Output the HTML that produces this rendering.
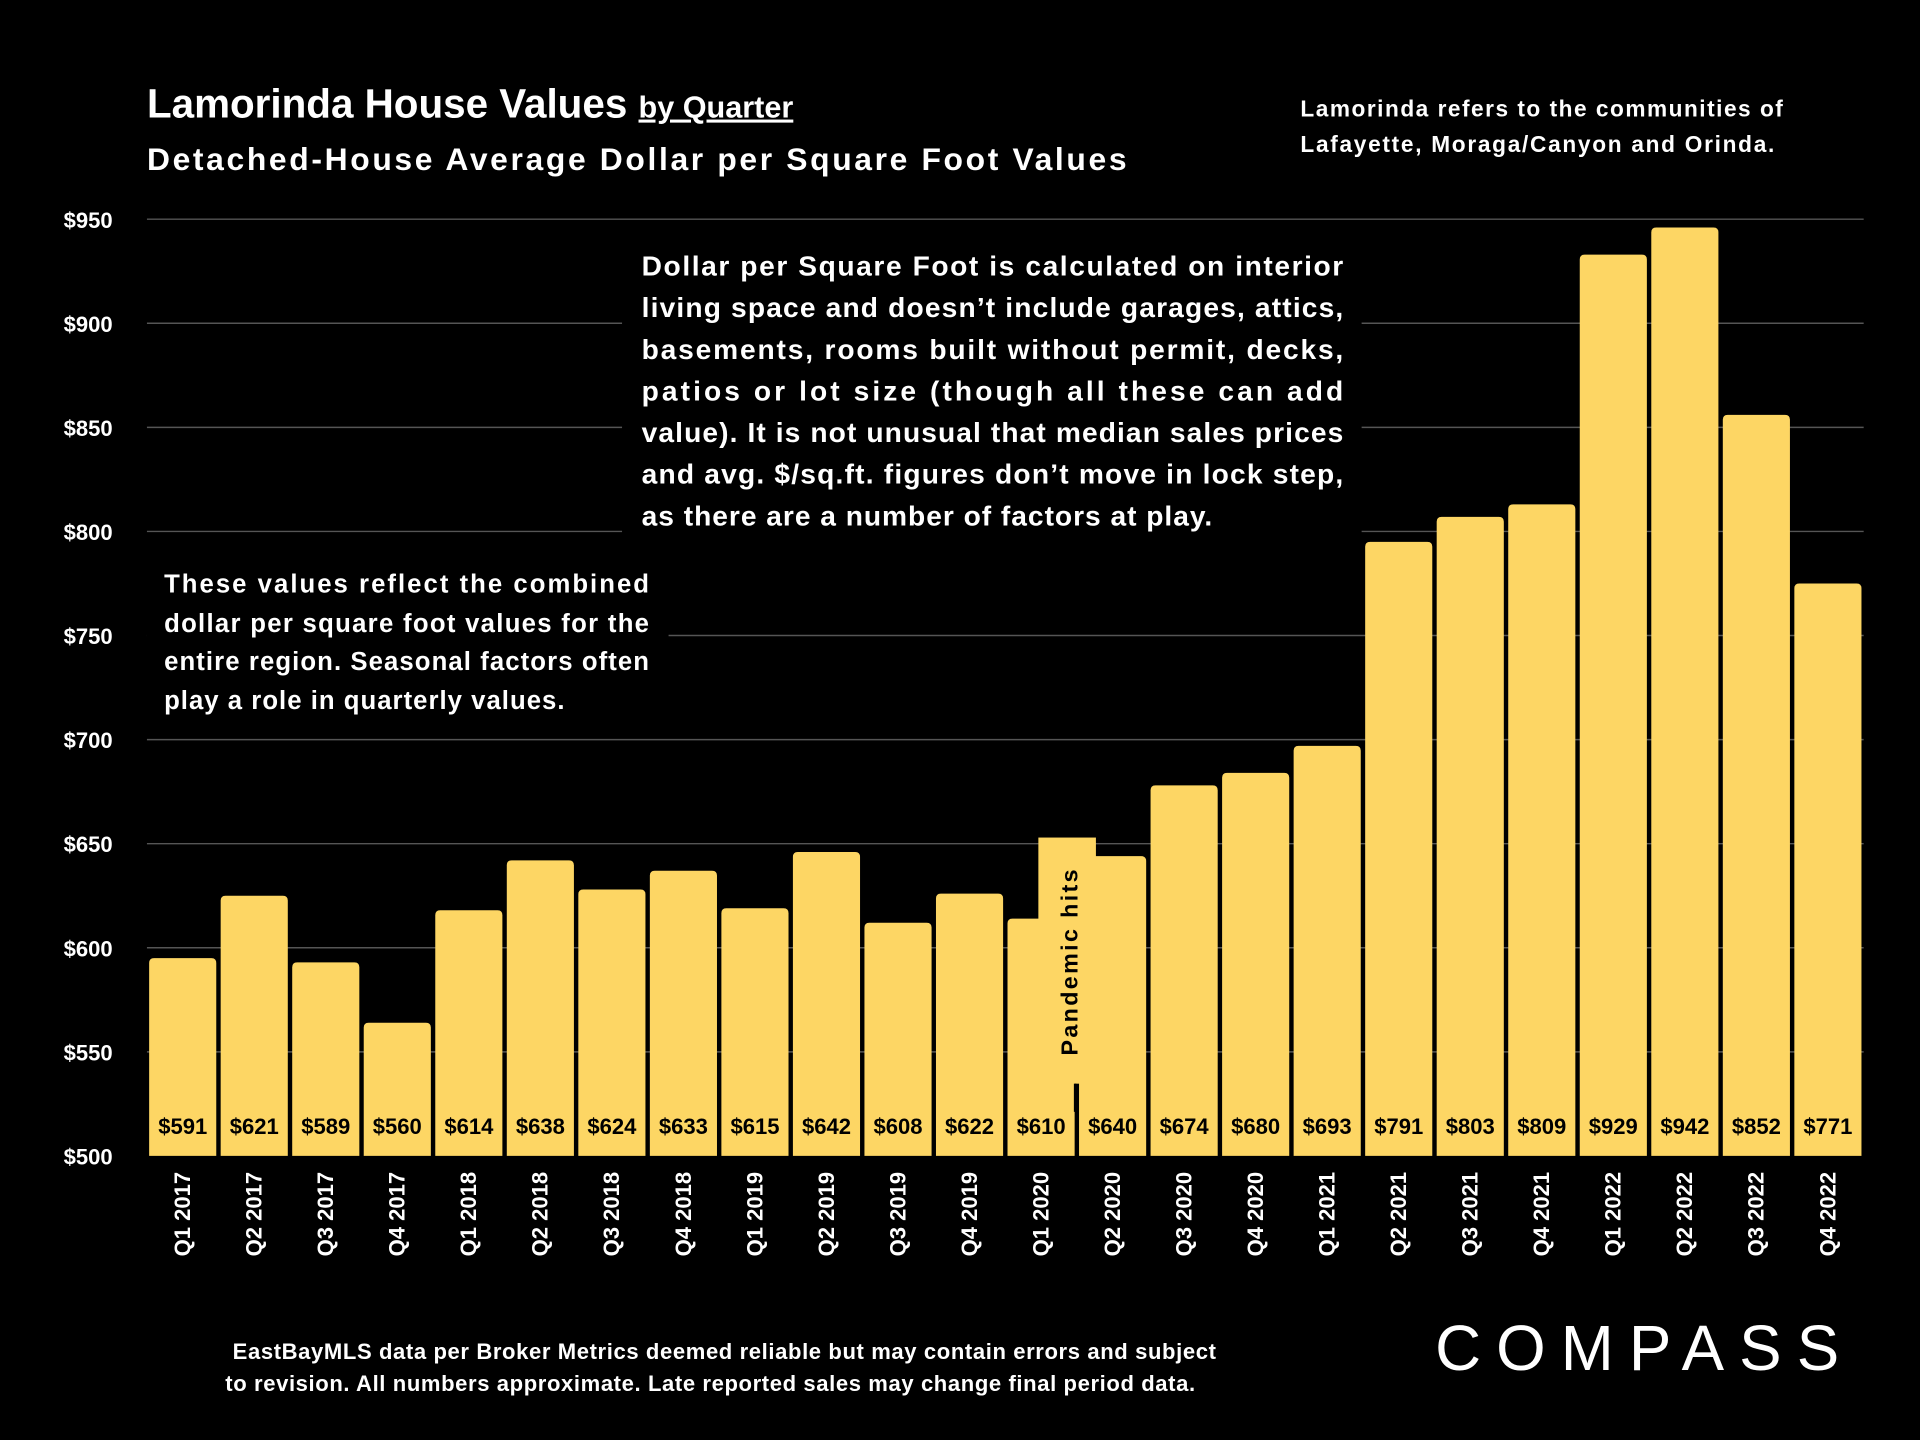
<!DOCTYPE html>
<html><head><meta charset="utf-8"><style>
html,body{margin:0;padding:0;background:#000;}
svg{display:block;}
text{font-family:"Liberation Sans",sans-serif;font-weight:bold;}
</style></head><body>
<svg id="chart" width="1920" height="1440" viewBox="0 0 1568 1176" xmlns="http://www.w3.org/2000/svg">
<rect x="0" y="0" width="1568" height="1176" fill="#000"/>
<g id="grid"></g>
<g id="bars"></g>
<text x="120" y="96" fill="#fff" font-size="33">Lamorinda House Values <tspan font-size="25" text-decoration="underline">by Quarter</tspan></text>
<text x="120" y="139" fill="#fff" font-size="26" textLength="800">Detached-House Average Dollar per Square Foot Values</text>
<text fill="#fff" font-size="18.5"><tspan x="1062" y="95" textLength="394">Lamorinda refers to the communities of</tspan><tspan x="1062" y="124" textLength="387">Lafayette, Moraga/Canyon and Orinda.</tspan></text>
<rect x="508" y="195" width="604" height="245" fill="#000"/>
<g fill="#fff" font-size="23">
<text x="524" y="225" textLength="573" lengthAdjust="spacing">Dollar per Square Foot is calculated on interior</text>
<text x="524" y="259" textLength="573" lengthAdjust="spacing">living space and doesn’t include garages, attics,</text>
<text x="524" y="293" textLength="573" lengthAdjust="spacing">basements, rooms built without permit, decks,</text>
<text x="524" y="327" textLength="573" lengthAdjust="spacing">patios or lot size (though all these can add</text>
<text x="524" y="361" textLength="573" lengthAdjust="spacing">value).  It is not unusual that median sales prices</text>
<text x="524" y="395" textLength="573" lengthAdjust="spacing">and avg. $/sq.ft. figures don’t move in lock step,</text>
<text x="524" y="429" textLength="466" lengthAdjust="spacing">as there are a number of factors at play.</text>
</g>
<rect x="120" y="455" width="426" height="140" fill="#000"/>
<g fill="#fff" font-size="21">
<text x="134" y="484" textLength="396" lengthAdjust="spacing">These values reflect the combined</text>
<text x="134" y="516" textLength="396" lengthAdjust="spacing">dollar per square foot values for the</text>
<text x="134" y="547" textLength="396" lengthAdjust="spacing">entire region. Seasonal factors often</text>
<text x="134" y="579" textLength="327" lengthAdjust="spacing">play a role in quarterly values.</text>
</g>
<g id="overlay">
<rect x="848" y="684" width="47" height="201" fill="#fdd664"/>
<line x1="878" y1="885" x2="878" y2="908" stroke="#000" stroke-width="2"/>
<text transform="translate(880,862) rotate(-90)" fill="#000" font-size="19" textLength="152">Pandemic hits</text>
</g>
<g fill="#fff" font-size="18">
<text x="190" y="1110" textLength="803">EastBayMLS data per Broker Metrics deemed reliable but may contain errors and subject</text>
<text x="184" y="1136" textLength="792">to revision. All numbers approximate. Late reported sales may change final period data.</text>
</g>
<text x="1172" y="1119" fill="#fff" font-size="52" style="font-weight:normal" textLength="330" lengthAdjust="spacing">COMPASS</text>
</svg>
<script>
const categories=["Q1 2017","Q2 2017","Q3 2017","Q4 2017","Q1 2018","Q2 2018","Q3 2018","Q4 2018","Q1 2019","Q2 2019","Q3 2019","Q4 2019","Q1 2020","Q2 2020","Q3 2020","Q4 2020","Q1 2021","Q2 2021","Q3 2021","Q4 2021","Q1 2022","Q2 2022","Q3 2022","Q4 2022"];
const values=[591,621,589,560,614,638,624,633,615,642,608,622,610,640,674,680,693,791,803,809,929,942,852,771];
const yTicks=[500,550,600,650,700,750,800,850,900,950];
const NS="http://www.w3.org/2000/svg";
const x0=120,x1=1522,yTop=179,yBot=944,vMin=500,vMax=950,barOffset=4;
const slot=(x1-x0)/categories.length;
function xScale(i){return x0+i*slot;}
function yScale(v){return yBot-(v-vMin)/(vMax-vMin)*(yBot-yTop);}
const grid=document.getElementById('grid'),bars=document.getElementById('bars');
yTicks.forEach(t=>{
 const y=yScale(t);
 if(t>vMin){const l=document.createElementNS(NS,'line');
 
 
 l.setAttribute('x1',x0);l.setAttribute('x2',x1);l.setAttribute('y1',y);l.setAttribute('y2',y);
 l.setAttribute('stroke','#555');l.setAttribute('stroke-width','1.2');grid.appendChild(l);}
 const tx=document.createElementNS(NS,'text');
 
 
 tx.setAttribute('x',92);tx.setAttribute('y',y+7);tx.setAttribute('text-anchor','end');
 tx.setAttribute('fill','#fff');tx.setAttribute('font-size','18');tx.textContent='$'+t;grid.appendChild(tx);
});
categories.forEach((c,i)=>{
 const bx=xScale(i)+1.8,bw=slot-3.6,y=yScale(values[i]+barOffset);
 const p=document.createElementNS(NS,'path');
 
 
 const r=4;
 p.setAttribute('d',`M${bx},${yBot}V${y+r}Q${bx},${y} ${bx+r},${y}H${bx+bw-r}Q${bx+bw},${y} ${bx+bw},${y+r}V${yBot}Z`);
 p.setAttribute('fill','#fdd664');bars.appendChild(p);
 const cx=xScale(i)+slot/2;
 const vl=document.createElementNS(NS,'text');
 
 
 vl.setAttribute('x',cx);vl.setAttribute('y',926);vl.setAttribute('text-anchor','middle');
 vl.setAttribute('fill','#000');vl.setAttribute('font-size','18');vl.textContent='$'+values[i];bars.appendChild(vl);
 const xl=document.createElementNS(NS,'text');
 
 
 xl.setAttribute('transform',`translate(${cx+6},957) rotate(-90)`);xl.setAttribute('text-anchor','end');
 xl.setAttribute('fill','#fff');xl.setAttribute('font-size','18');xl.textContent=c;bars.appendChild(xl);
});
</script>
</body></html>
